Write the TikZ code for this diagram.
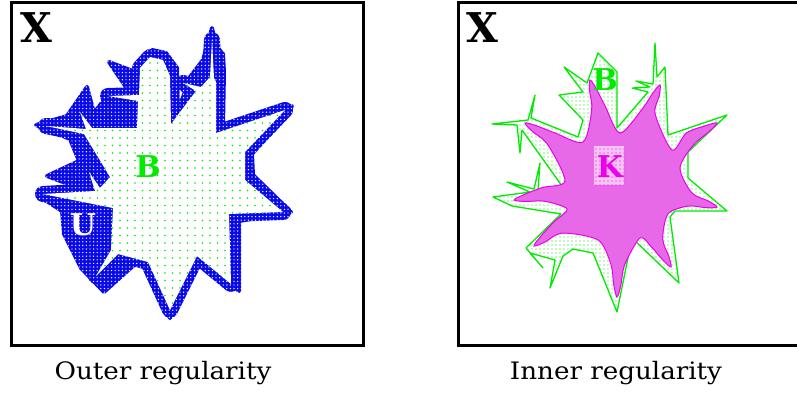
\documentclass[tikz,border=0pt]{standalone}
\usepackage{fontspec}
\setmainfont{DejaVu Serif}
\usetikzlibrary{patterns}
\pgfdeclarepatternformonly{bigdots}{\pgfqpoint{-1pt}{-1pt}}{\pgfqpoint{1pt}{1pt}}{\pgfqpoint{7.5pt}{7.5pt}}{\pgfpathcircle{\pgfqpoint{0pt}{0pt}}{0.85pt}\pgfusepath{fill}}
\pgfdeclarepatternformonly{middots}{\pgfqpoint{-1pt}{-1pt}}{\pgfqpoint{1pt}{1pt}}{\pgfqpoint{4pt}{4pt}}{\pgfpathcircle{\pgfqpoint{0pt}{0pt}}{0.65pt}\pgfusepath{fill}}
\pgfdeclarepatternformonly{finedots}{\pgfqpoint{-1pt}{-1pt}}{\pgfqpoint{1pt}{1pt}}{\pgfqpoint{3.6pt}{3.6pt}}{\pgfpathcircle{\pgfqpoint{0pt}{0pt}}{0.7pt}\pgfusepath{fill}}
\definecolor{ublue}{RGB}{10,10,230}
\definecolor{bgreen}{RGB}{0,235,0}
\definecolor{kmag}{RGB}{235,0,235}
\definecolor{kfill}{RGB}{232,105,232}
\definecolor{klight}{RGB}{247,195,247}
\tikzset{
  frame/.style={line width=3pt, draw=black},
  biglabel/.style={anchor=base, inner sep=0pt, font=\bfseries\fontsize{30}{30}\selectfont},
  xlabel/.style={anchor=base west, inner sep=0pt, font=\bfseries\fontsize{41}{41}\selectfont},
  caption/.style={anchor=base, inner sep=0pt, font=\fontsize{24}{24}\selectfont},
}
\def\Bl{(140,68) -- (150,57) -- (163,60) -- (170,76) -- (171,124) -- (196,91) -- (183,83) -- (201,87) -- (210,77) -- (212,40) -- (214,78) -- (216,82) -- (216,133) -- (285,110) -- (245,152) -- (245,180) -- (283,212) -- (229,214) -- (231,284) -- (197,256) -- (170,310) -- (148,262) -- (118,254) -- (96,276) -- (111,250) -- (113,208) -- (43,194) -- (95,191) -- (89,172) -- (100,188) -- (110,177) -- (84,134) -- (46,126) -- (86,129) -- (80,112) -- (92,128) -- (137,128) -- (138,101) -- (108,96) -- (139,95) -- cycle}
\def\Ul{(152,50) -- (166,53) -- (177,68) -- (178,112) -- (190,77) -- (203,60) -- (212,28) -- (216,46) -- (223,54) -- (224,72) -- (223,126) -- (292,106) -- (252,154) -- (253,175) -- (291,212) -- (239,221) -- (239,291) -- (198,250) -- (170,318) -- (143,257) -- (104,292) -- (81,268) -- (64,234) -- (62,211) -- (39,196) -- (76,187) -- (47,176) -- (79,161) -- (70,139) -- (36,125) -- (67,116) -- (87,87) -- (94,113) -- (107,96) -- (128,90) -- (109,62) -- (138,73) -- cycle}
\def\Br{(598,53) -- (617,72) -- (617,128) -- (648,92) -- (632,88) -- (650,87) -- (636,81) -- (653,84) -- (655,43) -- (657,77) -- (665,67) -- (668,135) -- (727,115) -- (688,152) -- (688,178) -- (727,211) -- (675,211) -- (670,217) -- (679,283) -- (632,238) -- (617,312) -- (593,253) -- (573,249) -- (563,256) -- (550,288) -- (555,260) -- (530,253) -- (543,268) -- (526,248) -- (561,214) -- (512,206) -- (493,197) -- (530,192) -- (507,182) -- (534,189) -- (540,163) -- (538,190) -- (562,186) -- (522,130) -- (520,153) -- (517,125) -- (492,124) -- (528,120) -- (535,95) -- (531,118) -- (578,137) -- (583,120) -- (559,95) -- (583,92) -- (564,67) -- (587,83) -- cycle}
\begin{document}
\begin{tikzpicture}[x=1pt,y=-1pt]
\useasboundingbox (0,0) rectangle (797,393);
\clip (0,0) rectangle (797,393);
% ---------- left panel ----------
\fill[ublue, draw=ublue, line width=4pt, line join=round] \Ul;
\draw[ublue, line width=16pt, line join=round] \Bl;
\path[pattern=finedots, pattern color=white] (25,20) rectangle (305,335);
\fill[white] \Bl;
\path[pattern=bigdots, pattern color=bgreen] \Bl;
\node[biglabel, text=bgreen] (bl) at (148,177) {B};
\node[biglabel, text=white] (ul) at (83,235) {U};
\draw[frame] (11,3) rectangle (363,345);
\node[xlabel] (xl) at (20,43) {X};
\node[caption] (c1) at (163,379) {\scalebox{1.09}[1]{Outer regularity}};
% ---------- right panel ----------
\fill[white] \Br;
\path[pattern=middots, pattern color=bgreen] \Br;
\draw[bgreen, line width=1.3pt, line join=round] \Br;
\filldraw[fill=kfill, draw=kmag, line width=1pt] plot[smooth cycle, tension=0.5] coordinates {
  (591.7,110.0) (589.6,91.0) (590,80) (596.4,89.0) (605.1,106.0)
  (620,133)
  (642.3,108.9) (652.8,93.1) (660,85) (659.2,95.9) (655.2,114.3)
  (672,150)
  (686.3,133.0) (705.5,125.7) (717,123) (709.1,131.7) (693.4,145.0)
  (680,168)
  (691.7,192.7) (708.2,200.9) (717,207) (706.4,207.7) (687.9,206.1)
  (668,214)
  (662.7,239.1) (668.9,256.5) (671,267) (662.9,260.1) (650.7,246.2)
  (640,238)
  (624.8,264.4) (620.8,285.4) (617,297) (613.8,285.2) (610.8,264.0)
  (598,240)
  (562.4,233.1) (544.7,242.2) (534,246) (540.5,236.6) (553.8,222.0)
  (567,209)
  (545,201.3) (525.3,201.4) (514,200) (524,194.6) (542.4,187.5)
  (565,181)
  (548,145) (532.7,131.7) (525,123) (536.3,125.7) (555.2,133)
  (583,142)};
\fill[klight] (594,146) rectangle (624,185);
\path[pattern=middots, pattern color=kmag] (594,146) rectangle (624,185);
\node[biglabel, text=bgreen] (br) at (605,91) {B};
\node[biglabel, text=kmag] (kr) at (610,177) {K};
\draw[frame] (458,3) rectangle (830,345);
\node[xlabel] (xr) at (466,43) {X};
\node[caption] (c2) at (616,379) {\scalebox{1.09}[1]{Inner regularity}};
\end{tikzpicture}
\end{document}
